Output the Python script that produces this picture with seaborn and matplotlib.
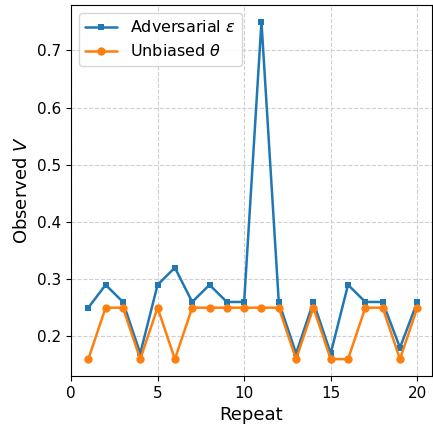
import matplotlib
matplotlib.use("Agg")
import matplotlib.pyplot as plt
import seaborn as sns
import pandas as pd

# values
repeats = list(range(1, 21))
adversarial = [0.25, 0.29, 0.26, 0.17, 0.29, 0.32, 0.26, 0.29, 0.26, 0.26,
               0.75, 0.26, 0.17, 0.26, 0.17, 0.29, 0.26, 0.26, 0.18, 0.26]
unbiased = [0.16, 0.25, 0.25, 0.16, 0.25, 0.16, 0.25, 0.25, 0.25, 0.25,
            0.25, 0.25, 0.16, 0.25, 0.16, 0.16, 0.25, 0.25, 0.16, 0.25]

df = pd.DataFrame({"Repeat": repeats, "adv": adversarial, "unb": unbiased})

sns.set_style("ticks", {"text.color": "black", "axes.labelcolor": "black",
                        "xtick.color": "black", "ytick.color": "black",
                        "axes.edgecolor": "black"})
fig = plt.figure(figsize=(4.33, 4.29), dpi=100)
ax = fig.add_axes([71 / 433, 53 / 429, 361 / 433, 371 / 429])

sns.lineplot(data=df, x="Repeat", y="adv", ax=ax, color="#1f77b4", marker="s",
             markersize=5, markeredgewidth=0, linewidth=1.8, label=r"Adversarial $\epsilon$")
sns.lineplot(data=df, x="Repeat", y="unb", ax=ax, color="#ff7f0e", marker="o",
             markersize=6, markeredgewidth=0, linewidth=1.8, label=r"Unbiased $\theta$")

ax.set_xlim(0, 20.85)
ax.set_ylim(0.1305, 0.7795)
ax.set_xticks([0, 5, 10, 15, 20])
ax.set_yticks([0.2, 0.3, 0.4, 0.5, 0.6, 0.7])
ax.grid(True, linestyle="--", color="#d0d0d0", linewidth=0.8)
ax.set_xlabel("Repeat", fontsize=13)
ax.set_ylabel(r"Observed $V$", fontsize=13)
ax.tick_params(labelsize=11)
ax.legend(loc="upper left", fontsize=11.5)

fig.savefig("out.png", dpi=100)
